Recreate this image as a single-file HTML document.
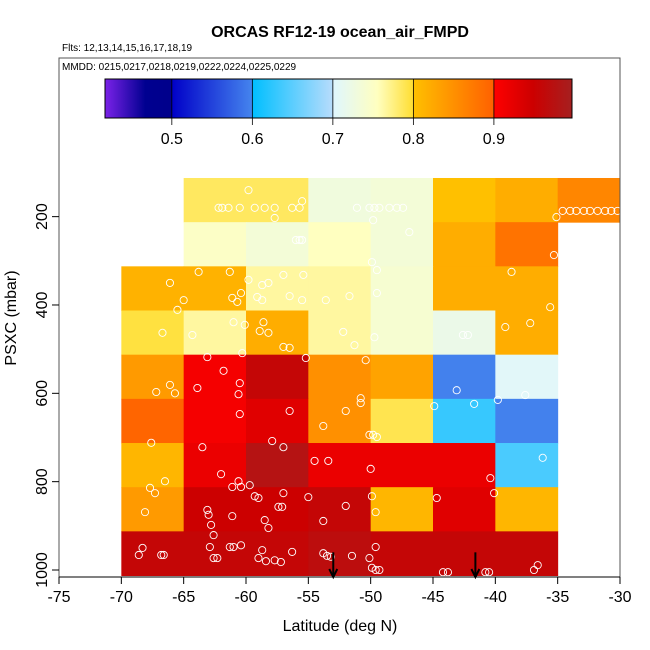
<!DOCTYPE html>
<html><head><meta charset="utf-8"><style>
body{margin:0;background:#fff}
svg{display:block;font-family:"Liberation Sans",Arial,sans-serif}
</style></head><body>
<svg id="chart" width="650" height="650" viewBox="0 0 650 650" xmlns="http://www.w3.org/2000/svg">
<text x="340" y="37" text-anchor="middle" font-size="16" font-weight="bold">ORCAS RF12-19 ocean_air_FMPD</text>
<text x="62" y="51" font-size="10">Flts: 12,13,14,15,16,17,18,19</text>
<g id="cells"></g>
<g id="pts"></g>
<g id="arrows"></g>
<rect x="59" y="58" width="561" height="519" fill="none" stroke="#555" stroke-width="1"/>
<rect x="60" y="59" width="559" height="15" fill="#fff"/>
<text x="62" y="70" font-size="10">MMDD: 0215,0217,0218,0219,0222,0224,0225,0229</text>
<defs>
<linearGradient id="s0"><stop offset="0" stop-color="#7b22e8"/><stop offset="0.6" stop-color="#000090"/><stop offset="1" stop-color="#00008b"/></linearGradient>
<linearGradient id="s1"><stop offset="0" stop-color="#0000c8"/><stop offset="1" stop-color="#4585ee"/></linearGradient>
<linearGradient id="s2"><stop offset="0" stop-color="#00bfff"/><stop offset="1" stop-color="#b8dcfc"/></linearGradient>
<linearGradient id="s3"><stop offset="0" stop-color="#dff6ff"/><stop offset="0.55" stop-color="#ffffc0"/><stop offset="1" stop-color="#ffdd30"/></linearGradient>
<linearGradient id="s4"><stop offset="0" stop-color="#ffc000"/><stop offset="1" stop-color="#ff6000"/></linearGradient>
<linearGradient id="s5"><stop offset="0" stop-color="#ff0000"/><stop offset="0.5" stop-color="#cc0000"/><stop offset="1" stop-color="#a52020"/></linearGradient>
</defs>
<g id="cbar"></g>
<g id="axes"></g>
<text x="340" y="631" text-anchor="middle" font-size="16">Latitude (deg N)</text>
<text transform="translate(16,318) rotate(-90)" text-anchor="middle" font-size="16">PSXC (mbar)</text>
</svg>
<script>
const lonEdges=[-70,-65,-60,-55,-50,-45,-40,-35,-30];
const presTop=[112.5,212.5,312.5,412.5,512.5,612.5,712.5,812.5,912.5];
const rowStart=[1,1,0,0,0,0,0,0,0];
const cellValues=[
[0.785,0.785,0.73,0.735,0.80,0.82,0.86],
[0.75,0.735,0.755,0.735,0.82,0.88],
[0.815,0.815,0.765,0.765,0.74,0.82,0.82],
[0.795,0.765,0.82,0.765,0.74,0.72,0.82],
[0.84,0.91,0.96,0.85,0.83,0.597,0.705],
[0.895,0.91,0.93,0.85,0.79,0.63,0.597],
[0.81,0.92,0.98,0.92,0.92,0.92,0.64],
[0.84,0.95,0.95,0.96,0.81,0.93,0.81],
[0.96,0.96,0.96,0.97,0.96,0.96,0.96]];
const ptLon=[-62.2,-61.9,-61.4,-60.5,-59.3,-58.5,-57.7,-56.3,-55.7,-51.1,-50.1,-49.7,-49.3,-48.5,-47.9,-47.4,-34.6,-34.0,-33.5,-32.9,-32.4,-31.8,-31.2,-30.7,-30.2,-35.1,-59.8,-55.5,-57.7,-49.8,-56.0,-55.7,-55.5,-46.9,-35.3,-61.3,-59.8,-58.7,-58.2,-57.0,-55.4,-49.9,-49.5,-38.7,-66.1,-63.8,-65.0,-61.1,-60.4,-60.7,-59.1,-58.7,-56.5,-55.5,-53.6,-51.7,-49.5,-35.6,-65.5,-66.7,-64.3,-60.1,-61.0,-58.6,-58.9,-58.2,-57.0,-56.5,-52.2,-51.3,-49.7,-42.6,-42.2,-39.2,-37.2,-63.1,-60.3,-66.1,-63.9,-61.8,-60.5,-67.2,-65.7,-60.6,-55.2,-50.4,-43.1,-37.6,-39.8,-50.8,-50.8,-44.9,-41.7,-60.5,-56.5,-52.0,-53.8,-49.8,-49.5,-50.1,-67.6,-63.5,-57.9,-57.0,-36.2,-53.4,-54.5,-62.0,-50.0,-60.6,-61.1,-60.4,-59.7,-67.7,-67.3,-66.5,-40.4,-40.1,-44.7,-59.3,-59.0,-57.0,-55.0,-49.9,-52.0,-68.1,-63.1,-63.0,-61.1,-58.5,-57.4,-57.1,-53.8,-49.6,-58.2,-62.8,-68.3,-68.6,-66.8,-66.6,-62.9,-62.6,-62.3,-61.3,-61.0,-60.4,-58.7,-59.0,-58.4,-57.7,-57.2,-56.3,-53.8,-53.5,-53.2,-50.1,-49.9,-49.6,-49.3,-51.5,-49.6,-44.2,-43.8,-40.8,-40.5,-36.9,-36.6,-62.6];
const ptPres=[180,180,180,180,180,180,180,180,180,180,180,180,180,180,180,180,187,187,187,187,187,187,187,187,187,201,140,165,203,208,253,253,253,235,287,325,343,355,350,332,332,303,321,325,350,325,389,384,373,393,382,389,380,389,389,380,373,405,411,463,468,445,439,439,459,463,495,497,461,491,473,468,468,450,441,518,509,581,588,549,577,597,600,602,520,525,593,604,615,611,622,629,624,647,640,640,674,694,699,694,712,722,708,722,746,753,753,783,771,799,812,812,808,814,826,799,792,826,837,833,837,826,835,833,855,869,864,875,878,887,857,857,889,869,905,898,950,966,966,966,948,973,973,948,948,944,955,973,980,978,982,959,962,968,970,973,995,1000,1000,968,948,1005,1005,1005,1005,1000,989,921];
const arrowLon=[-53.0,-41.6];
const cbTicks=[0.5,0.6,0.7,0.8,0.9];
const xTicks=[-75,-70,-65,-60,-55,-50,-45,-40,-35,-30];
const yTicks=[200,400,600,800,1000];

const NS='http://www.w3.org/2000/svg';
const X=lon=>59+(lon+75)*(561/45);
const Y=p=>570-(1000-p)*0.4417;
const CB=v=>105+(v-0.417)*(467/0.58);
function mk(tag,attrs,parent){const e=document.createElementNS(NS,tag);for(const k in attrs)e.setAttribute(k,attrs[k]);parent.appendChild(e);return e;}
function hex(h){return [parseInt(h.slice(1,3),16),parseInt(h.slice(3,5),16),parseInt(h.slice(5,7),16)];}
const cmap=[[0.417,'#7b22e8'],[0.49,'#000090'],[0.4999,'#00008b'],[0.5,'#0000c8'],[0.5999,'#4585ee'],[0.6,'#00bfff'],[0.6999,'#b8dcfc'],[0.7,'#dff6ff'],[0.755,'#ffffc0'],[0.7999,'#ffdd30'],[0.8,'#ffc000'],[0.8999,'#ff6000'],[0.9,'#ff0000'],[0.95,'#cc0000'],[1.0,'#a52020']];
function color(v){for(let i=0;i<cmap.length-1;i++){if(v<=cmap[i+1][0]){const t=Math.max(0,(v-cmap[i][0])/(cmap[i+1][0]-cmap[i][0]));const a=hex(cmap[i][1]),b=hex(cmap[i+1][1]);return 'rgb('+a.map((c,j)=>Math.round(c+(b[j]-c)*t)).join(',')+')';}}return cmap[cmap.length-1][1];}

const cells=document.getElementById('cells');
cellValues.forEach((row,r)=>{row.forEach((v,c)=>{const ci=c+rowStart[r];
 const x0=X(lonEdges[ci]),x1=X(lonEdges[ci+1]),y0=Y(presTop[r]),y1=Y(presTop[r]+100);
 const e=mk('rect',{x:x0,y:y0,width:x1-x0+0.5,height:y1-y0+0.5,fill:color(v)},cells);
 
 
});});
const pts=document.getElementById('pts');
ptLon.forEach((lo,i)=>{const e=mk('circle',{cx:X(lo),cy:Y(ptPres[i]),r:3.6,fill:'none',stroke:'#fff','stroke-width':0.9},pts);
 
 
});
const ar=document.getElementById('arrows');
arrowLon.forEach(lo=>{const x=X(lo);const g=mk('g',{},ar);
 
 
 mk('line',{x1:x,y1:Y(960),x2:x,y2:576,stroke:'#000','stroke-width':2},g);
 mk('path',{d:`M${x-4},569 L${x},577 L${x+4},569`,fill:'none',stroke:'#000','stroke-width':2},g);
});
const cb=document.getElementById('cbar');
const segs=[[0.417,0.5],[0.5,0.6],[0.6,0.7],[0.7,0.8],[0.8,0.9],[0.9,0.997]];
segs.forEach((s,i)=>{mk('rect',{x:CB(s[0]),y:79,width:CB(s[1])-CB(s[0])+0.3,height:39,fill:`url(#s${i})`},cb);});
mk('rect',{x:105,y:79,width:467,height:39,fill:'none',stroke:'#000','stroke-width':1},cb);
cbTicks.forEach(t=>{const x=CB(t);mk('line',{x1:x,y1:79,x2:x,y2:125,stroke:'#000','stroke-width':0.8},cb);
 const tx=mk('text',{x:x,y:144,'text-anchor':'middle','font-size':16},cb);tx.textContent=t.toFixed(1);
 
 
});
const ax=document.getElementById('axes');
mk('line',{x1:59,y1:577,x2:620,y2:577,stroke:'#000'},ax);
xTicks.forEach(t=>{const x=X(t);mk('line',{x1:x,y1:577,x2:x,y2:584,stroke:'#000'},ax);
 const tx=mk('text',{x:x,y:602,'text-anchor':'middle','font-size':16},ax);tx.textContent=t;
 
 
});
yTicks.forEach(t=>{const y=Y(t);mk('line',{x1:52,y1:y,x2:59,y2:y,stroke:'#000'},ax);
 const tx=mk('text',{transform:`translate(47,${y}) rotate(-90)`,'text-anchor':'middle','font-size':16},ax);tx.textContent=t;
 
 
});
</script>
</body></html>
